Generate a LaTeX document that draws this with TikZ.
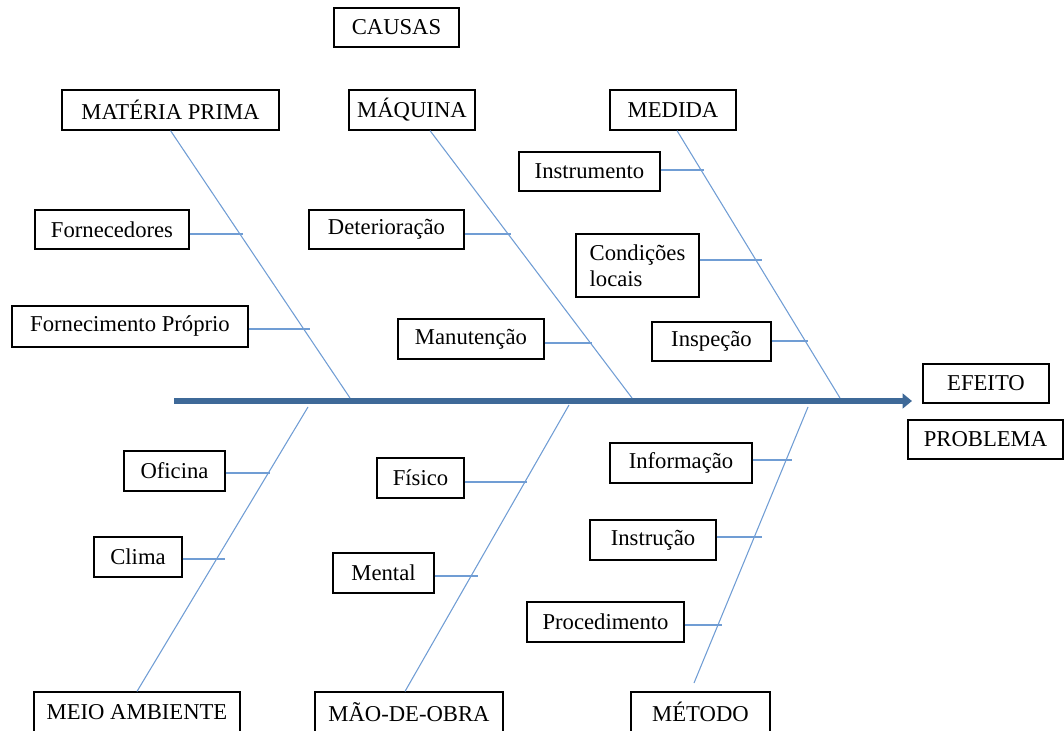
\documentclass[tikz,border=0pt]{standalone}
\usepackage{fontspec}
\setmainfont{Liberation Serif}
\usetikzlibrary{arrows.meta,calc}
\definecolor{espinha}{RGB}{62,105,152}
\definecolor{osso}{RGB}{112,157,212}
\tikzset{
  caixa/.style={draw=black,line width=0.9pt,inner sep=0pt,font=\fontsize{17}{19.5}\selectfont},
  tam/.style 2 args={minimum width=#1*0.75pt,minimum height=#2*0.75pt},
  ramo/.style={draw=osso,line width=0.8pt},
}
\begin{document}
\begin{tikzpicture}[x=0.75pt,y=-0.75pt]
  \useasboundingbox (0,0) rectangle (1064,731);
  \clip (0,0) rectangle (1064,731);
  % titulo e causas
  \node[caixa,tam={125}{39}] (causas) at (396.5,27.5) {CAUSAS};
  \node[caixa,tam={217}{40}] (materia) at (170.5,110) {MATÉRIA PRIMA};
  \node[caixa,tam={126}{40}] (maquina) at (412,110) {MÁQUINA};
  \node[caixa,tam={126}{40}] (medida) at (673,110) {MEDIDA};
  \node[caixa,tam={206}{40}] (meio) at (137,712) {MEIO AMBIENTE};
  \node[caixa,tam={188}{40}] (maodeobra) at (409,712) {MÃO-DE-OBRA};
  \node[caixa,tam={139}{40}] (metodo) at (700.5,712) {MÉTODO};
  % efeito
  \node[caixa,tam={126}{39}] (efeito) at (986,383.5) {EFEITO};
  \node[caixa,tam={155}{39}] (problema) at (985.5,439.5) {PROBLEMA};
  % sub-causas
  \node[caixa,tam={141}{39}] (instrumento) at (589.5,171.5) {Instrumento};
  \node[caixa,tam={154}{39}] (fornecedores) at (112,229.5) {Fornecedores};
  \node[caixa,tam={155}{39}] (deterioracao) at (386.5,229.5) {Deterioração};
  \node[caixa,tam={123}{63},align=left] (condicoes) at (637.5,265.5) {Condições\\locais};
  \node[caixa,tam={236}{41}] (fproprio) at (130,326.5) {Fornecimento Próprio};
  \node[caixa,tam={146}{40}] (manutencao) at (471,339) {Manutenção};
  \node[caixa,tam={119}{39}] (inspecao) at (711.5,341.5) {Inspeção};
  \node[caixa,tam={101}{40}] (oficina) at (174.5,471) {Oficina};
  \node[caixa,tam={87}{40}] (fisico) at (420.5,478) {Físico};
  \node[caixa,tam={142}{40}] (informacao) at (681,463) {Informação};
  \node[caixa,tam={126}{40}] (instrucao) at (653,540) {Instrução};
  \node[caixa,tam={88}{40}] (clima) at (138,557) {Clima};
  \node[caixa,tam={101}{40}] (mental) at (383.5,573) {Mental};
  \node[caixa,tam={157}{40}] (procedimento) at (605.5,622) {Procedimento};
  % espinha
  \coordinate (cauda) at (174,401);
  \coordinate (cabeca) at (912,401);
  \draw[espinha,line width=5pt,-{Triangle[length=7pt,width=11pt]}] (cauda) -- (cabeca);
  % ossos
  \coordinate (m1) at (350,398);
  \coordinate (m2) at (632,398);
  \coordinate (m3) at (840,398);
  \coordinate (b1) at (308,407);
  \coordinate (b2) at (569,405);
  \coordinate (b3) at (808,407);
  \coordinate (p3) at (694,683);
  \draw[ramo] (materia.south) -- (m1);
  \draw[ramo] ($(maquina.south)+(18,0)$) -- (m2);
  \draw[ramo] ($(medida.south)+(4,0)$) -- (m3);
  \draw[ramo] (b1) -- (meio.north);
  \draw[ramo] (b2) -- ($(maodeobra.north)+(-4,0)$);
  \draw[ramo] (b3) -- (p3);
  % ramos das sub-causas
  \foreach \n/\x/\y in {fornecedores/243/234, fproprio/310/329, deterioracao/511/234,
      manutencao/592/343, instrumento/704/170, condicoes/762/260, inspecao/808/341,
      oficina/270/473, clima/225/559, fisico/527/482, mental/478/576,
      informacao/792/460, instrucao/762/537, procedimento/722/625}
    {\coordinate (t-\n) at (\x,\y);
     \draw[ramo] (t-\n -| \n.east) -- (t-\n);}
\end{tikzpicture}
\end{document}
